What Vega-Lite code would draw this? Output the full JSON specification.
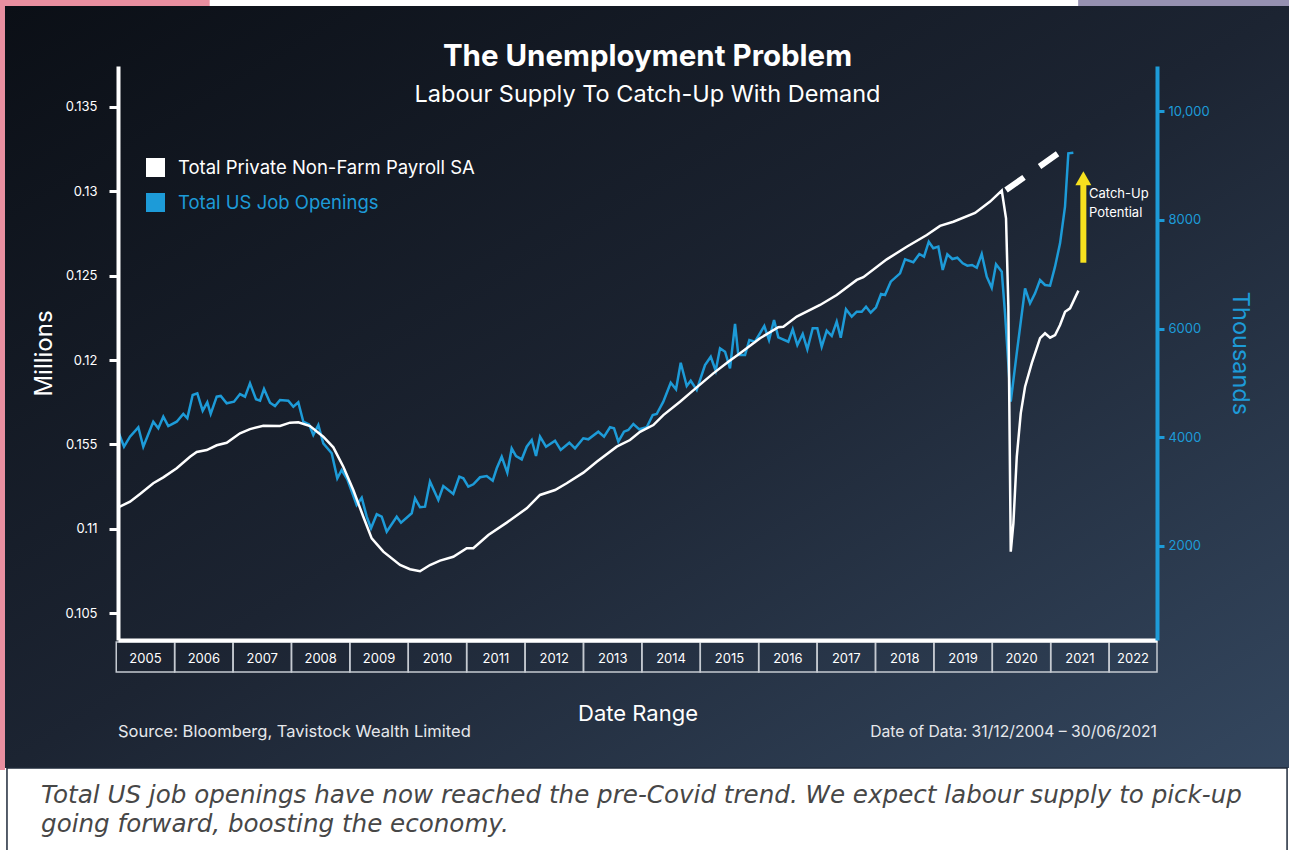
{
  "$schema": "https://vega.github.io/schema/vega-lite/v6.json",
  "autosize": {"type": "none"},
  "width": 1039,
  "height": 574,
  "padding": {"left": 118, "top": 66, "right": 132, "bottom": 210},
  "background": "#ffffff",
  "config": {
    "font": "Inter",
    "view": {"stroke": null},
    "axis": {"grid": false, "zindex": 1}
  },
  "title": {
    "text": "The Unemployment Problem",
    "subtitle": "Labour Supply To Catch-Up With Demand",
    "anchor": "middle",
    "frame": "group",
    "dx": 10,
    "offset": -111,
    "font": "Inter",
    "fontSize": 29.5,
    "fontWeight": "bold",
    "color": "#ffffff",
    "subtitleFont": "Inter",
    "subtitleFontSize": 23.5,
    "subtitleColor": "#ffffff",
    "subtitlePadding": 11
  },
  "datasets": {
    "payroll": [
      {"t":2005.035,"v":0.11128},{"t":2005.236,"v":0.11161},{"t":2005.407,"v":0.11207},{"t":2005.634,"v":0.11270},{"t":2005.806,"v":0.11305},{"t":2006.035,"v":0.11359},{"t":2006.263,"v":0.11427},{"t":2006.378,"v":0.11455},{"t":2006.549,"v":0.11467},{"t":2006.720,"v":0.11495},{"t":2006.891,"v":0.11510},{"t":2007.119,"v":0.11566},{"t":2007.290,"v":0.11591},{"t":2007.518,"v":0.11611},{"t":2007.804,"v":0.11609},{"t":2007.975,"v":0.11629},{"t":2008.117,"v":0.11631},{"t":2008.318,"v":0.11609},{"t":2008.545,"v":0.11546},{"t":2008.717,"v":0.11483},{"t":2008.888,"v":0.11368},{"t":2009.059,"v":0.11230},{"t":2009.230,"v":0.11072},{"t":2009.374,"v":0.10944},{"t":2009.573,"v":0.10865},{"t":2009.859,"v":0.10786},{"t":2010.030,"v":0.10761},{"t":2010.201,"v":0.10749},{"t":2010.372,"v":0.10786},{"t":2010.544,"v":0.10812},{"t":2010.771,"v":0.10835},{"t":2011.001,"v":0.10885},{"t":2011.114,"v":0.10885},{"t":2011.371,"v":0.10964},{"t":2011.686,"v":0.11037},{"t":2012.028,"v":0.11122},{"t":2012.256,"v":0.11201},{"t":2012.513,"v":0.11230},{"t":2012.713,"v":0.11270},{"t":2012.998,"v":0.11333},{"t":2013.227,"v":0.11398},{"t":2013.569,"v":0.11487},{"t":2013.797,"v":0.11526},{"t":2013.968,"v":0.11575},{"t":2014.196,"v":0.11615},{"t":2014.367,"v":0.11674},{"t":2014.653,"v":0.11753},{"t":2014.939,"v":0.11838},{"t":2015.223,"v":0.11921},{"t":2015.480,"v":0.11990},{"t":2015.681,"v":0.12040},{"t":2016.023,"v":0.12129},{"t":2016.336,"v":0.12194},{"t":2016.422,"v":0.12197},{"t":2016.652,"v":0.12257},{"t":2017.051,"v":0.12326},{"t":2017.336,"v":0.12385},{"t":2017.679,"v":0.12474},{"t":2017.792,"v":0.12490},{"t":2018.193,"v":0.12596},{"t":2018.535,"v":0.12671},{"t":2018.878,"v":0.12740},{"t":2019.105,"v":0.12794},{"t":2019.333,"v":0.12819},{"t":2019.705,"v":0.12871},{"t":2019.962,"v":0.12938},{"t":2020.162,"v":0.13003},{"t":2020.235,"v":0.12839},{"t":2020.275,"v":0.12316},{"t":2020.316,"v":0.10865},{"t":2020.361,"v":0.11033},{"t":2020.419,"v":0.11427},{"t":2020.487,"v":0.11684},{"t":2020.561,"v":0.11842},{"t":2020.676,"v":0.11981},{"t":2020.818,"v":0.12129},{"t":2020.903,"v":0.12158},{"t":2020.989,"v":0.12132},{"t":2021.075,"v":0.12148},{"t":2021.160,"v":0.12207},{"t":2021.246,"v":0.12286},{"t":2021.331,"v":0.12306},{"t":2021.474,"v":0.12411}
    ],
    "openings": [
      {"t":2005.035,"v":4102},{"t":2005.133,"v":3826},{"t":2005.235,"v":4010},{"t":2005.378,"v":4183},{"t":2005.463,"v":3826},{"t":2005.634,"v":4286},{"t":2005.720,"v":4165},{"t":2005.806,"v":4378},{"t":2005.891,"v":4207},{"t":2006.035,"v":4286},{"t":2006.148,"v":4428},{"t":2006.217,"v":4349},{"t":2006.309,"v":4777},{"t":2006.388,"v":4808},{"t":2006.480,"v":4488},{"t":2006.559,"v":4643},{"t":2006.617,"v":4428},{"t":2006.720,"v":4746},{"t":2006.789,"v":4759},{"t":2006.891,"v":4624},{"t":2007.016,"v":4654},{"t":2007.119,"v":4795},{"t":2007.205,"v":4746},{"t":2007.290,"v":4992},{"t":2007.393,"v":4698},{"t":2007.462,"v":4672},{"t":2007.530,"v":4887},{"t":2007.633,"v":4635},{"t":2007.718,"v":4575},{"t":2007.804,"v":4685},{"t":2007.946,"v":4672},{"t":2008.032,"v":4562},{"t":2008.117,"v":4643},{"t":2008.203,"v":4286},{"t":2008.301,"v":4238},{"t":2008.374,"v":4041},{"t":2008.460,"v":4225},{"t":2008.545,"v":3889},{"t":2008.689,"v":3705},{"t":2008.785,"v":3245},{"t":2008.860,"v":3398},{"t":2008.956,"v":3227},{"t":2009.117,"v":2754},{"t":2009.203,"v":2888},{"t":2009.289,"v":2539},{"t":2009.362,"v":2326},{"t":2009.460,"v":2583},{"t":2009.545,"v":2539},{"t":2009.631,"v":2263},{"t":2009.802,"v":2539},{"t":2009.876,"v":2429},{"t":2010.059,"v":2601},{"t":2010.116,"v":2877},{"t":2010.201,"v":2712},{"t":2010.287,"v":2723},{"t":2010.372,"v":3183},{"t":2010.515,"v":2846},{"t":2010.600,"v":3103},{"t":2010.771,"v":2956},{"t":2010.874,"v":3275},{"t":2010.943,"v":3245},{"t":2011.028,"v":3091},{"t":2011.114,"v":3135},{"t":2011.229,"v":3264},{"t":2011.343,"v":3287},{"t":2011.446,"v":3201},{"t":2011.515,"v":3429},{"t":2011.600,"v":3642},{"t":2011.696,"v":3348},{"t":2011.771,"v":3797},{"t":2011.845,"v":3655},{"t":2011.943,"v":3594},{"t":2012.028,"v":3826},{"t":2012.114,"v":3949},{"t":2012.187,"v":3655},{"t":2012.256,"v":4010},{"t":2012.359,"v":3826},{"t":2012.513,"v":3937},{"t":2012.610,"v":3766},{"t":2012.758,"v":3900},{"t":2012.855,"v":3797},{"t":2012.997,"v":3981},{"t":2013.083,"v":3962},{"t":2013.254,"v":4102},{"t":2013.352,"v":4010},{"t":2013.455,"v":4183},{"t":2013.523,"v":4165},{"t":2013.597,"v":3918},{"t":2013.694,"v":4102},{"t":2013.768,"v":4133},{"t":2013.854,"v":4244},{"t":2013.956,"v":4146},{"t":2014.083,"v":4183},{"t":2014.186,"v":4409},{"t":2014.254,"v":4428},{"t":2014.367,"v":4654},{"t":2014.494,"v":5003},{"t":2014.585,"v":4882},{"t":2014.665,"v":5371},{"t":2014.768,"v":4943},{"t":2014.836,"v":5040},{"t":2014.939,"v":4869},{"t":2015.081,"v":5329},{"t":2015.179,"v":5481},{"t":2015.264,"v":5224},{"t":2015.338,"v":5636},{"t":2015.424,"v":5573},{"t":2015.509,"v":5268},{"t":2015.595,"v":6083},{"t":2015.651,"v":5513},{"t":2015.766,"v":5513},{"t":2015.840,"v":5789},{"t":2015.937,"v":5757},{"t":2016.096,"v":6046},{"t":2016.177,"v":5789},{"t":2016.263,"v":6156},{"t":2016.336,"v":5838},{"t":2016.507,"v":5757},{"t":2016.583,"v":5985},{"t":2016.662,"v":5697},{"t":2016.754,"v":5899},{"t":2016.833,"v":5618},{"t":2016.925,"v":6004},{"t":2017.004,"v":6004},{"t":2017.079,"v":5665},{"t":2017.165,"v":5960},{"t":2017.251,"v":5862},{"t":2017.336,"v":6125},{"t":2017.405,"v":5831},{"t":2017.495,"v":6353},{"t":2017.593,"v":6217},{"t":2017.679,"v":6309},{"t":2017.764,"v":6309},{"t":2017.838,"v":6401},{"t":2017.918,"v":6291},{"t":2018.009,"v":6390},{"t":2018.095,"v":6635},{"t":2018.163,"v":6616},{"t":2018.261,"v":6861},{"t":2018.420,"v":7015},{"t":2018.506,"v":7273},{"t":2018.648,"v":7218},{"t":2018.751,"v":7370},{"t":2018.831,"v":7321},{"t":2018.912,"v":7596},{"t":2018.990,"v":7475},{"t":2019.076,"v":7505},{"t":2019.151,"v":7076},{"t":2019.230,"v":7365},{"t":2019.316,"v":7278},{"t":2019.401,"v":7302},{"t":2019.494,"v":7199},{"t":2019.573,"v":7155},{"t":2019.653,"v":7168},{"t":2019.734,"v":7118},{"t":2019.819,"v":7370},{"t":2019.905,"v":6953},{"t":2019.990,"v":6750},{"t":2020.064,"v":7181},{"t":2020.162,"v":7045},{"t":2020.218,"v":6280},{"t":2020.316,"v":4654},{"t":2020.418,"v":5544},{"t":2020.561,"v":6739},{"t":2020.646,"v":6464},{"t":2020.732,"v":6647},{"t":2020.817,"v":6892},{"t":2020.903,"v":6800},{"t":2020.989,"v":6787},{"t":2021.074,"v":7137},{"t":2021.160,"v":7567},{"t":2021.245,"v":8240},{"t":2021.302,"v":9222},{"t":2021.388,"v":9233}
    ],
    "trend": [{"t": 2020.235, "v": 8547}, {"t": 2021.143, "v": 9233}],
    "years": [
      {"label":"2005","start":2005,"end":2006},{"label":"2006","start":2006,"end":2007},{"label":"2007","start":2007,"end":2008},{"label":"2008","start":2008,"end":2009},{"label":"2009","start":2009,"end":2010},{"label":"2010","start":2010,"end":2011},{"label":"2011","start":2011,"end":2012},{"label":"2012","start":2012,"end":2013},{"label":"2013","start":2013,"end":2014},{"label":"2014","start":2014,"end":2015},{"label":"2015","start":2015,"end":2016},{"label":"2016","start":2016,"end":2017},{"label":"2017","start":2017,"end":2018},{"label":"2018","start":2018,"end":2019},{"label":"2019","start":2019,"end":2020},{"label":"2020","start":2020,"end":2021},{"label":"2021","start":2021,"end":2022},{"label":"2022","start":2022,"end":2022.82}
    ],
    "callout": [{"label": "Catch-Up", "t": 2021.656, "v": 8474}, {"label": "Potential", "t": 2021.656, "v": 8124}]
  },
  "layer": [
    {
      "layer": [
        {
          "data": {"values": [{}]},
          "mark": {"type": "rect", "color": "#e98fa0"},
          "encoding": {
            "x": {"datum": 2003.0, "type": "quantitative"}, "x2": {"datum": 2003.095},
            "y": {"datum": 12100, "type": "quantitative"}, "y2": {"datum": -2120}
          }
        },
        {
          "data": {"values": [{}]},
          "mark": {"type": "rect", "color": "#e98fa0"},
          "encoding": {
            "x": {"datum": 2003.0, "type": "quantitative"}, "x2": {"datum": 2006.6},
            "y": {"datum": 12100, "type": "quantitative"}, "y2": {"datum": 11931}
          }
        },
        {
          "data": {"values": [{}]},
          "mark": {"type": "rect", "color": "#9691b1"},
          "encoding": {
            "x": {"datum": 2021.47, "type": "quantitative"}, "x2": {"datum": 2025.2},
            "y": {"datum": 12100, "type": "quantitative"}, "y2": {"datum": 11931}
          }
        },
        {
          "data": {"values": [{}]},
          "mark": {"type": "rect", "fill": {"gradient": "linear", "x1": 0, "y1": 0, "x2": 1, "y2": 1, "stops": [{"offset": 0, "color": "#0b0f16"}, {"offset": 0.5, "color": "#1c2432"}, {"offset": 1, "color": "#34475f"}]}},
          "encoding": {
            "x": {"datum": 2003.095, "type": "quantitative"}, "x2": {"datum": 2025.2},
            "y": {"datum": 11931, "type": "quantitative"}, "y2": {"datum": -2083}
          }
        },
        {
          "data": {"values": [{}]},
          "mark": {"type": "rect", "fill": "#ffffff", "stroke": "#1f2a3a", "strokeWidth": 1.5},
          "encoding": {
            "x": {"datum": 2003.129, "type": "quantitative"}, "x2": {"datum": 2025.047},
            "y": {"datum": -2083, "type": "quantitative"}, "y2": {"datum": -3700}
          }
        },
        {
          "data": {"name": "years"},
          "mark": {"type": "rect", "fill": "transparent", "stroke": "#c5cad1", "strokeWidth": 1.5},
          "encoding": {
            "x": {"field": "start", "type": "quantitative"}, "x2": {"field": "end"},
            "y": {"datum": 233, "type": "quantitative"}, "y2": {"datum": -317}
          }
        },
        {
          "data": {"name": "years"},
          "transform": [{"calculate": "(datum.start + datum.end) / 2", "as": "mid"}],
          "mark": {"type": "text", "color": "#ffffff", "fontSize": 13, "align": "center", "baseline": "middle"},
          "encoding": {
            "x": {"field": "mid", "type": "quantitative"},
            "y": {"datum": -78, "type": "quantitative"},
            "text": {"field": "label", "type": "nominal"}
          }
        },
        {
          "data": {"values": [{}]},
          "mark": {"type": "text", "color": "#e6e8ec", "fontSize": 16.5, "align": "left", "baseline": "middle"},
          "encoding": {
            "x": {"datum": 2005.03, "type": "quantitative"},
            "y": {"datum": -1421, "type": "quantitative"},
            "text": {"value": "Source: Bloomberg, Tavistock Wealth Limited"}
          }
        },
        {
          "data": {"values": [{}]},
          "mark": {"type": "text", "color": "#e6e8ec", "fontSize": 15.7, "align": "right", "baseline": "middle"},
          "encoding": {
            "x": {"datum": 2022.82, "type": "quantitative"},
            "y": {"datum": -1421, "type": "quantitative"},
            "text": {"value": "Date of Data: 31/12/2004 – 30/06/2021"}
          }
        },
        {
          "data": {"values": [{}]},
          "mark": {"type": "text", "font": "DejaVu Sans", "color": "#474747", "fontSize": 24.6, "fontStyle": "italic", "fontWeight": 200, "align": "left", "baseline": "middle", "lineHeight": 29},
          "encoding": {
            "x": {"datum": 2003.712, "type": "quantitative"},
            "y": {"datum": -2607, "type": "quantitative"},
            "text": {"value": ["Total US job openings have now reached the pre-Covid trend. We expect labour supply to pick-up", "going forward, boosting the economy."]}
          }
        },
        {
          "data": {"name": "openings"},
          "mark": {"type": "line", "strokeWidth": 2.5},
          "encoding": {
            "x": {"field": "t", "type": "quantitative", "title": "Date Range", "scale": {"domain": [2005.03, 2022.82], "nice": false, "zero": false},
              "axis": {"domainColor": "#ffffff", "domainWidth": 4, "ticks": false, "labels": false, "titleColor": "#ffffff", "titleFontSize": 22, "titleFontWeight": "normal", "titlePadding": 63, "grid": false, "zindex": 1}},
            "y": {
              "field": "v", "type": "quantitative", "title": "Thousands",
              "scale": {"domain": [271, 10828], "nice": false, "zero": false},
              "axis": {"orient": "right", "values": [2000, 4000, 6000, 8000, 10000], "labelExpr": "datum.value >= 10000 ? format(datum.value, ',') : format(datum.value, 'd')", "domainColor": "#1d9bd8", "domainWidth": 4, "tickColor": "#1d9bd8", "tickSize": 7, "tickWidth": 3, "labelColor": "#1d9bd8", "labelFontSize": 13, "labelPadding": 4, "titleColor": "#1d9bd8", "titleFontSize": 23.5, "titleFontWeight": "normal", "titlePadding": 18, "grid": false, "zindex": 1}
            },
            "color": {
              "datum": "Total US Job Openings", "type": "nominal",
              "scale": {"domain": ["Total Private Non-Farm Payroll SA", "Total US Job Openings"], "range": ["#ffffff", "#1d9bd8"]},
              "legend": {
                "orient": "none", "legendX": 28, "legendY": 92, "title": null, "padding": 0,
                "symbolType": "square", "symbolSize": 361, "symbolStrokeWidth": 0, "symbolOpacity": 1,
                "labelFontSize": 18.5, "labelColor": "#ffffff", "labelOffset": 13, "labelLimit": 600, "rowPadding": 16,
                "encode": {
                  "symbols": {"update": {"fill": {"signal": "datum.value === 'Total US Job Openings' ? '#1d9bd8' : '#ffffff'"}, "stroke": {"value": "transparent"}}},
                  "labels": {"update": {"fill": {"signal": "datum.value === 'Total US Job Openings' ? '#1d9bd8' : '#ffffff'"}}}
                }
              }
            }
          }
        },
        {
          "data": {"name": "trend"},
          "mark": {"type": "line", "color": "#ffffff", "strokeWidth": 6, "strokeDash": [22, 19], "strokeCap": "butt"},
          "encoding": {
            "x": {"field": "t", "type": "quantitative"},
            "y": {"field": "v", "type": "quantitative"}
          }
        },
        {
          "data": {"values": [{}]},
          "mark": {"type": "rule", "color": "#f7e11e", "strokeWidth": 6},
          "encoding": {
            "x": {"datum": 2021.559, "type": "quantitative"},
            "y": {"datum": 7210, "type": "quantitative"}, "y2": {"datum": 8700}
          }
        },
        {
          "data": {"values": [{}]},
          "mark": {"type": "point", "shape": "triangle-up", "filled": true, "size": 256, "color": "#f7e11e", "opacity": 1},
          "encoding": {
            "x": {"datum": 2021.559, "type": "quantitative"},
            "y": {"datum": 8764, "type": "quantitative"}
          }
        },
        {
          "data": {"name": "callout"},
          "mark": {"type": "text", "color": "#ffffff", "fontSize": 13, "align": "left", "baseline": "middle"},
          "encoding": {
            "x": {"field": "t", "type": "quantitative"},
            "y": {"field": "v", "type": "quantitative"},
            "text": {"field": "label", "type": "nominal"}
          }
        }
      ]
    },
    {
      "layer": [
        {
          "data": {"name": "payroll"},
          "mark": {"type": "line", "strokeWidth": 2.5},
          "encoding": {
            "x": {"field": "t", "type": "quantitative", "title": "Date Range", "scale": {"domain": [2005.03, 2022.82], "nice": false, "zero": false},
              "axis": {"domainColor": "#ffffff", "domainWidth": 4, "ticks": false, "labels": false, "titleColor": "#ffffff", "titleFontSize": 22, "titleFontWeight": "normal", "titlePadding": 63, "grid": false, "zindex": 1}},
            "y": {
              "field": "v", "type": "quantitative", "title": "Millions",
              "scale": {"domain": [0.10342, 0.13741], "nice": false, "zero": false},
              "axis": {"orient": "left", "values": [0.105, 0.11, 0.115, 0.12, 0.125, 0.13, 0.135], "labelExpr": "abs(datum.value - 0.115) < 0.0001 ? '0.155' : format(datum.value, '.3~f')", "domainColor": "#ffffff", "domainWidth": 4, "tickColor": "#ffffff", "tickSize": 9, "tickWidth": 3, "labelColor": "#ffffff", "labelFontSize": 13, "labelPadding": 12, "titleColor": "#ffffff", "titleFontSize": 24, "titleFontWeight": "normal", "titlePadding": 9, "grid": false, "zindex": 1}
            },
            "color": {"datum": "Total Private Non-Farm Payroll SA", "type": "nominal"}
          }
        }
      ]
    }
  ],
  "resolve": {"scale": {"y": "independent"}, "axis": {"y": "independent"}}
}
